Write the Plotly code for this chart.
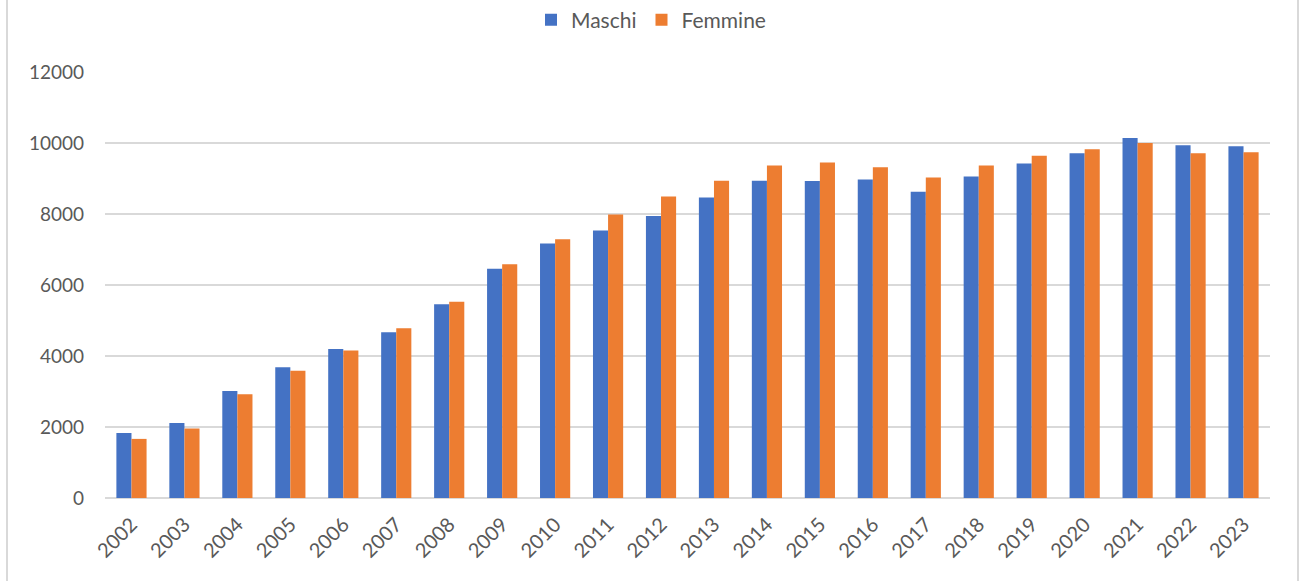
import plotly.graph_objects as go

years = [str(y) for y in range(2002, 2024)]
maschi = [1832, 2115, 3016, 3686, 4199, 4670, 5455, 6460, 7166, 7533, 7947, 8465,
          8936, 8927, 8974, 8627, 9059, 9426, 9708, 10141, 9934, 9906]
femmine = [1665, 1958, 2921, 3581, 4157, 4785, 5527, 6582, 7288, 7985, 8493, 8936,
           9369, 9454, 9320, 9031, 9369, 9643, 9821, 10000, 9708, 9737]
y_ticks = [0, 2000, 4000, 6000, 8000, 10000, 12000]

FONT = "Lato, 'Open Sans', sans-serif"
GRAY = "#595959"

fig = go.Figure()
fig.add_trace(go.Bar(x=years, y=maschi, name="Maschi", marker=dict(color="#4472C4", line=dict(width=0))))
fig.add_trace(go.Bar(x=years, y=femmine, name="Femmine", marker=dict(color="#ED7D31", line=dict(width=0))))

W, H = 1301, 581
L, R, T, B = 105, 31, 72, 83
pw, ph = W - L - R, H - T - B

def px_x(p):
    return (p - L) / pw

def px_y(p):
    return (H - B - p) / ph

shapes = [
    dict(type="line", xref="paper", yref="paper", x0=px_x(7), x1=px_x(7), y0=px_y(590), y1=px_y(-10),
         line=dict(color="#d9d9d9", width=2)),
    dict(type="line", xref="paper", yref="paper", x0=px_x(1298), x1=px_x(1298), y0=px_y(590), y1=px_y(-10),
         line=dict(color="#d9d9d9", width=2)),
]

fig.update_layout(
    width=W, height=H,
    margin=dict(l=L, r=R, t=T, b=B, autoexpand=False),
    paper_bgcolor="white", plot_bgcolor="white",
    barmode="group", bargap=0.43, bargroupgap=0,
    font=dict(family=FONT, size=17, color=GRAY),
    legend=dict(orientation="h", xref="container", x=651 / W, xanchor="center",
                yref="container", y=1 - 20 / H, yanchor="middle",
                font=dict(family=FONT, size=21, color=GRAY), itemwidth=30,
                traceorder="normal"),
    shapes=shapes,
    showlegend=True,
)
fig.update_xaxes(type="category", tickangle=-45, showgrid=False, showline=False,
                 ticks="", ticklabelstandoff=10,
                 tickfont=dict(family=FONT, size=20, color=GRAY))
fig.update_yaxes(range=[0, 12000], tickvals=y_ticks, ticktext=[str(v) for v in y_ticks],
                 showgrid=True, gridcolor="#d9d9d9", gridwidth=1.5,
                 zeroline=True, zerolinecolor="#d9d9d9", zerolinewidth=1.5,
                 ticks="", ticklabelstandoff=20,
                 tickfont=dict(family=FONT, size=19, color=GRAY))

fig.write_html("out.html", config={"displayModeBar": False},
               post_script="document.body.style.margin='0';document.body.style.overflow='hidden';")
